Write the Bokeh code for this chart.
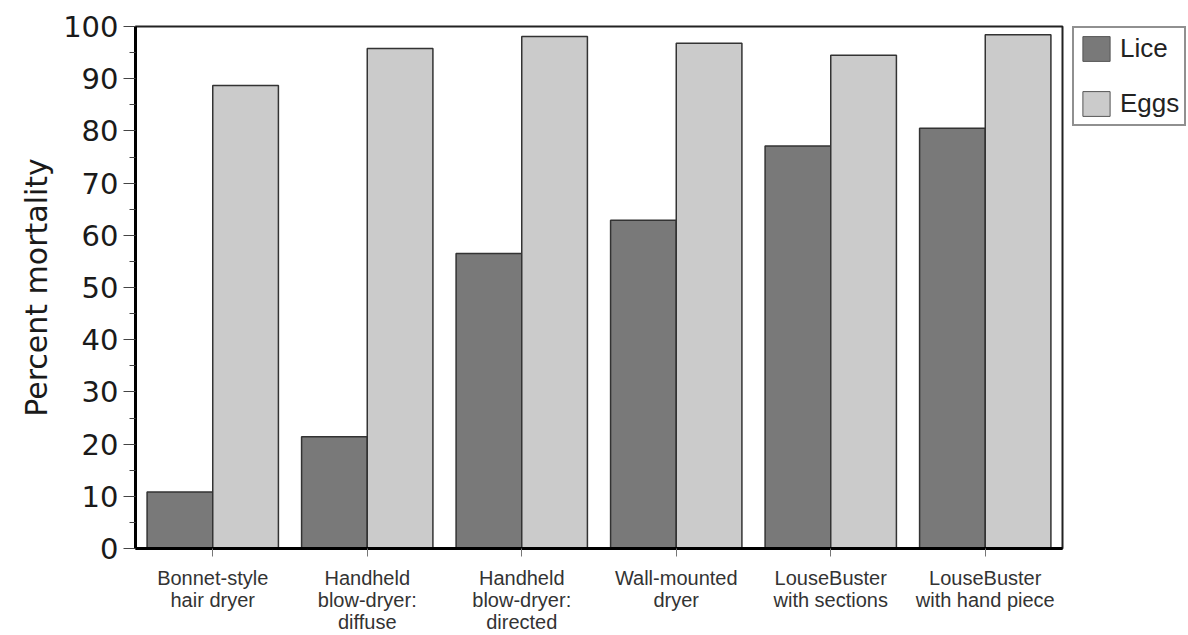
from bokeh.plotting import figure
from bokeh.models import (ColumnDataSource, FactorRange, Range1d, Legend, LegendItem,
                          FixedTicker)
from bokeh.layouts import row
from bokeh.transform import dodge
from bokeh.embed import file_html
from bokeh.resources import INLINE

categories = ["Bonnet-style\nhair dryer",
              "Handheld\nblow-dryer:\ndiffuse",
              "Handheld\nblow-dryer:\ndirected",
              "Wall-mounted\ndryer",
              "LouseBuster\nwith sections",
              "LouseBuster\nwith hand piece"]
lice = [10.8, 21.4, 56.5, 62.9, 77.1, 80.5]
eggs = [88.7, 95.8, 98.1, 96.8, 94.5, 98.4]
series = ["Lice", "Eggs"]
y_ticks = [0, 10, 20, 30, 40, 50, 60, 70, 80, 90, 100]
y_minor = [5, 15, 25, 35, 45, 55, 65, 75, 85, 95]

LICE_COLOR = "#797979"
EGGS_COLOR = "#cbcbcb"
EDGE = "#333333"

src = ColumnDataSource(data=dict(cat=categories, lice=lice, eggs=eggs))

W_MAIN, H = 1064, 635
L, R, T, B = 135, 2, 26, 85

p = figure(width=W_MAIN, height=H, x_range=FactorRange(*categories, range_padding=0),
           y_range=Range1d(0, 100), output_backend="svg", toolbar_location=None,
           min_border_left=L, min_border_right=R, min_border_top=T, min_border_bottom=B)

BAR_W = 0.425
p.vbar(x=dodge('cat', -BAR_W / 2, range=p.x_range), top='lice', width=BAR_W, source=src,
       fill_color=LICE_COLOR, line_color=EDGE, line_width=1.5)
p.vbar(x=dodge('cat', BAR_W / 2, range=p.x_range), top='eggs', width=BAR_W, source=src,
       fill_color=EGGS_COLOR, line_color=EDGE, line_width=1.5)

p.xgrid.visible = False
p.ygrid.visible = False
p.outline_line_color = "#222222"
p.outline_line_width = 2
p.background_fill_color = "white"
p.border_fill_color = "white"

# y axis
ya = p.yaxis[0]
ya.ticker = FixedTicker(ticks=y_ticks, minor_ticks=y_minor)
ya.axis_line_color = "black"
ya.axis_line_width = 3
ya.major_tick_in = 0
ya.major_tick_out = 12
ya.minor_tick_in = 0
ya.minor_tick_out = 6
ya.major_tick_line_color = "#444444"
ya.minor_tick_line_color = "#444444"
ya.major_label_text_font = "DejaVu Sans"
ya.major_label_text_font_size = "29px"
ya.major_label_text_color = "#1a1a1a"
ya.major_label_standoff = 5
ya.axis_label = "Percent mortality"
ya.axis_label_text_font = "DejaVu Sans"
ya.axis_label_text_font_size = "30px"
ya.axis_label_text_font_style = "normal"
ya.axis_label_text_color = "#1a1a1a"
ya.axis_label_standoff = 6

# x axis
xa = p.xaxis[0]
xa.axis_line_color = "black"
xa.axis_line_width = 3
xa.major_tick_in = 0
xa.major_tick_out = 8
xa.major_tick_line_color = "#777777"
xa.minor_tick_line_color = None
xa.major_label_text_font = "Liberation Sans"
xa.major_label_text_font_size = "20px"
xa.major_label_text_color = "#333333"
xa.major_label_text_line_height = 1.0
xa.major_label_standoff = 10
xa.major_label_orientation = "horizontal"

# legend panel (separate narrow figure to the right)
pl = figure(width=1188 - W_MAIN, height=H, x_range=Range1d(0, 1), y_range=Range1d(0, 1),
            output_backend="svg", toolbar_location=None,
            min_border_left=8, min_border_right=0, min_border_top=T, min_border_bottom=0)
pl.axis.visible = False
pl.grid.visible = False
pl.outline_line_color = None
pl.background_fill_color = "white"
pl.border_fill_color = "white"
# legend-key renderers, placed far outside this small panel's visible range
k1 = pl.vbar(x=[10], bottom=[10], top=[11], width=0.1,
             fill_color=LICE_COLOR, line_color="#555555", line_width=1)
k2 = pl.vbar(x=[10], bottom=[10], top=[11], width=0.1,
             fill_color=EGGS_COLOR, line_color="#555555", line_width=1)

legend = Legend(items=[LegendItem(label=series[0], renderers=[k1]),
                       LegendItem(label=series[1], renderers=[k2])],
                location="top_left", margin=0, padding=5, spacing=24,
                glyph_width=34, glyph_height=31, label_standoff=7,
                label_text_font="Liberation Sans", label_text_font_size="26px",
                label_text_color="#222222",
                border_line_color="#222222", border_line_width=2,
                background_fill_color="white", background_fill_alpha=1)
pl.add_layout(legend, "center")

layout = row(p, pl, spacing=0)

open("out.html", "w").write(file_html(layout, INLINE))
